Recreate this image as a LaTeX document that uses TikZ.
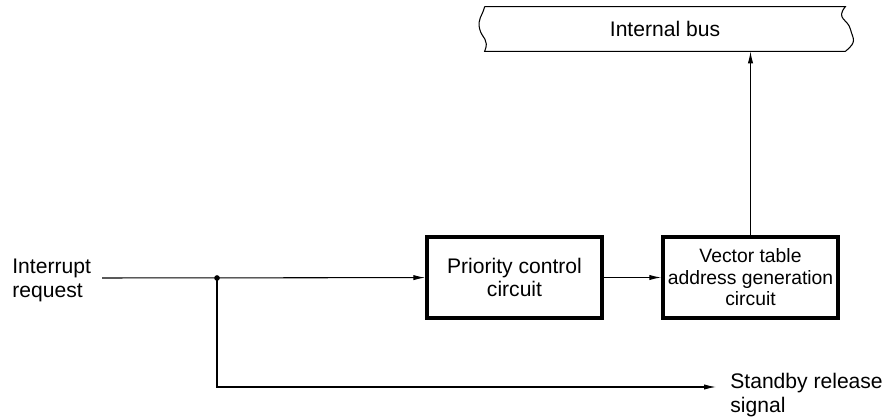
\documentclass[tikz,border=0pt]{standalone}
\usepackage{fontspec}
\setmainfont{Liberation Sans}
\usetikzlibrary{arrows.meta,positioning}
\tikzset{blk/.style={draw, line width=2pt, minimum width=3.5cm, minimum height=1.62cm, align=center, inner xsep=0pt, inner ysep=2pt}}
\tikzset{arr/.style={draw, line width=0.6pt, -{Latex[length=6.8pt, width=3pt]}}}
\tikzset{lbl/.style={align=left, inner sep=0pt, anchor=west}}
\begin{document}
\fontsize{12}{13.6}\selectfont
\begin{tikzpicture}
    \useasboundingbox (0,0) rectangle (17.72,8.4);
    \node[minimum width=7.2cm, minimum height=0.88cm] (bus) at (13.3,7.82) {Internal bus};
    \node[blk] (pcc) at (10.29,2.85) {Priority control\\circuit};
    \node[blk, font=\fontsize{11}{12.2}\selectfont] (vtg) at (15.01,2.85) {Vector table\\address generation\\circuit};
    \node[lbl] (irq) at (0.24,2.79) {Interrupt\\request};
    \node[lbl] (stb) at (14.6,0.5) {Standby release\\signal};
    \coordinate (in) at (2.04,2.84);
    \coordinate (fork) at (4.34,2.84);
    \coordinate (turn) at (4.34,0.66);
    \coordinate (out) at (14.32,0.66);

    % bus outline with wavy ends
    \draw[line width=0.6pt] (bus.north west) -- (bus.north east)
        .. controls +(-0.2,-0.25) and +(-0.05,0.2) .. ([xshift=0.1cm]bus.east)
        .. controls +(0.05,-0.2) and +(0.25,0.2) .. (bus.south east)
        -- (bus.south west)
        .. controls +(0.1,0.25) and +(0.05,-0.2) .. ([xshift=-0.1cm]bus.west)
        .. controls +(-0.05,0.2) and +(-0.05,-0.2) .. (bus.north west);

    \draw[arr] (in) -- (pcc);
    \draw[arr] (pcc) -- (vtg);
    \draw[arr] (vtg.north) -- (vtg.north |- bus.south);
    \draw[arr] (fork) -- (turn) -- (out);
    \fill (fork) circle (1.6pt);
\end{tikzpicture}
\end{document}
